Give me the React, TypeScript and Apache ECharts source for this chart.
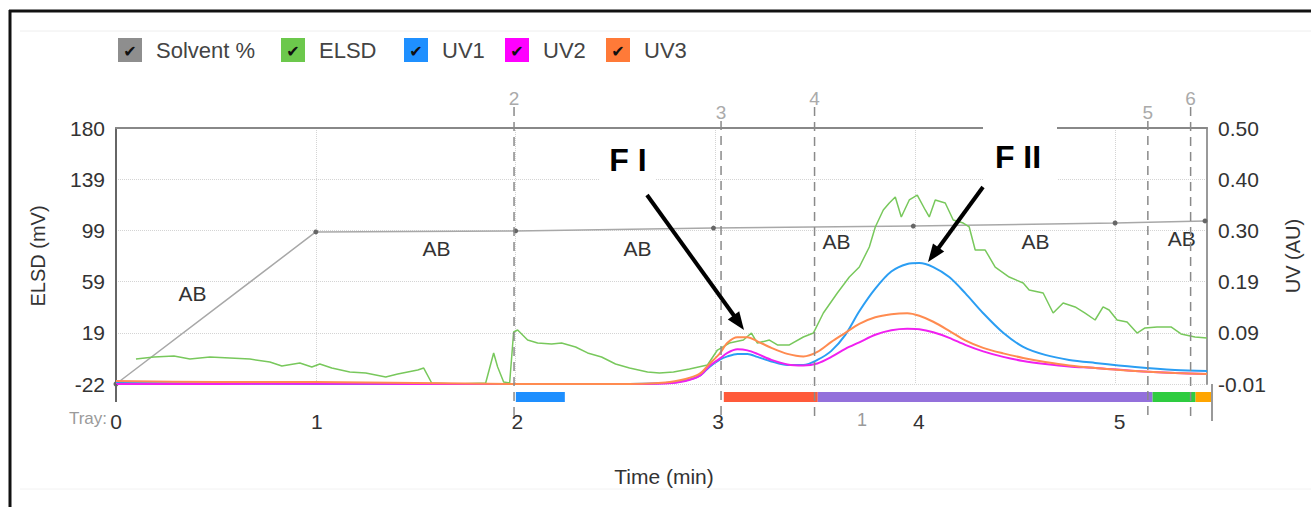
import React, { useEffect, useRef } from "react";
import * as echarts from "echarts";

const FONT = '"Liberation Sans", Arial, sans-serif';

// ---- data ----
const seriesNames = ["Solvent %", "ELSD", "UV1", "UV2", "UV3"];
const legendColors = ["#8e8e8e", "#6cc84c", "#1f90ff", "#ff00ff", "#ff7a38"];
const lineColors = ["#a8a8a8", "#78c85c", "#2b9ef3", "#f020f0", "#ff8b50"];

const elsdTicks = ["-22", "19", "59", "99", "139", "180"];
const timeTicks = [0, 1, 2, 3, 4, 5];

const solventTime = [0, 1.0, 2.0, 2.99, 3.99, 5.0, 5.45];
const solventPct = [0, 59.4, 59.8, 60.9, 61.7, 62.9, 63.7];

const segmentLabels = ["AB", "AB", "AB", "AB", "AB", "AB"];
const segmentLabelTime = [0.383, 1.604, 2.61, 3.606, 4.602, 5.334];
const segmentLabelPct = [35.5, 53.1, 53.1, 55.5, 55.5, 57.0];

const elsdTime = [0.1, 0.19, 0.29, 0.37, 0.47, 0.57, 0.67, 0.77, 0.83, 0.92, 0.98, 1.02, 1.08, 1.17, 1.25, 1.35, 1.41, 1.51, 1.54, 1.58, 1.71, 1.85, 1.89, 1.91, 1.94, 1.97, 1.99, 2.01, 2.06, 2.11, 2.18, 2.23, 2.3, 2.36, 2.43, 2.5, 2.57, 2.66, 2.72, 2.79, 2.87, 2.96, 3.01, 3.07, 3.14, 3.18, 3.21, 3.27, 3.31, 3.37, 3.44, 3.49, 3.54, 3.61, 3.67, 3.72, 3.77, 3.8, 3.84, 3.87, 3.9, 3.93, 3.97, 4.01, 4.05, 4.07, 4.1, 4.15, 4.19, 4.24, 4.27, 4.3, 4.35, 4.4, 4.47, 4.54, 4.57, 4.64, 4.69, 4.74, 4.8, 4.85, 4.9, 4.94, 4.97, 5.01, 5.06, 5.11, 5.15, 5.21, 5.28, 5.33, 5.4, 5.46];
const elsdValue = [-2.3, -0.7, 0.1, -2.3, -0.7, -1.5, -2.3, -4.6, -7.8, -5.4, -8.6, -6.2, -9.4, -12.5, -13.3, -16.5, -14.1, -11.0, -9.4, -21.2, -22, -21.2, 2.5, -8.6, -20.4, -21.2, 19.0, 20.6, 12.7, 10.3, 9.6, 10.3, 7.2, 2.5, -0.7, -6.2, -9.4, -12.5, -13.3, -12.5, -10.2, -7.0, 4.8, 10.3, 12.7, 18.2, 10.3, 12.7, 8.8, 8.8, 15.1, 18.2, 34.0, 49.8, 62.4, 70.3, 86.1, 101.9, 115.3, 120.8, 125.5, 109.8, 123.2, 127.1, 115.3, 109.8, 123.2, 120.8, 107.4, 105.0, 101.9, 83.7, 83.7, 70.3, 62.4, 57.7, 52.2, 49.8, 34.0, 41.9, 38.8, 34.0, 28.5, 38.8, 36.4, 28.5, 26.9, 18.2, 22.2, 23.0, 23.0, 17.5, 15.1, 14.3];

const uvTime = [0, 0.5, 1.0, 1.5, 2.0, 2.5, 2.75, 2.85, 2.92, 2.97, 3.02, 3.06, 3.11, 3.16, 3.21, 3.28, 3.36, 3.44, 3.51, 3.58, 3.65, 3.72, 3.8, 3.88, 3.96, 4.02, 4.09, 4.17, 4.25, 4.34, 4.44, 4.54, 4.65, 4.77, 4.9, 5.1, 5.3, 5.46];
const uv1Value = [-0.008, -0.009, -0.01, -0.01, -0.01, -0.01, -0.008, -0.003, 0.006, 0.024, 0.038, 0.045, 0.05, 0.05, 0.044, 0.035, 0.028, 0.028, 0.038, 0.056, 0.088, 0.135, 0.18, 0.214, 0.229, 0.231, 0.223, 0.203, 0.171, 0.131, 0.092, 0.064, 0.048, 0.038, 0.032, 0.024, 0.018, 0.016];
const uv2Value = [-0.01, -0.01, -0.009, -0.01, -0.01, -0.01, -0.009, -0.004, 0.006, 0.026, 0.04, 0.052, 0.059, 0.057, 0.05, 0.038, 0.029, 0.027, 0.031, 0.044, 0.06, 0.073, 0.088, 0.097, 0.1, 0.099, 0.093, 0.082, 0.068, 0.055, 0.044, 0.036, 0.03, 0.025, 0.022, 0.016, 0.012, 0.01];
const uv3Value = [-0.004, -0.006, -0.006, -0.008, -0.01, -0.01, -0.007, 0.0, 0.01, 0.03, 0.05, 0.072, 0.083, 0.083, 0.075, 0.062, 0.05, 0.045, 0.054, 0.074, 0.092, 0.11, 0.123, 0.129, 0.131, 0.126, 0.114, 0.096, 0.077, 0.062, 0.051, 0.042, 0.034, 0.027, 0.022, 0.016, 0.012, 0.01];

const fractionLabels = ["2", "3", "4", "5", "6"];
const fractionTime = [1.992, 3.028, 3.496, 5.164, 5.378];

const trayStart = [1.992, 3.028, 3.496, 5.164, 5.378];
const trayEnd = [2.236, 3.496, 5.164, 5.378, 5.46];
const trayColors = ["#1e8fff", "#ff5a3a", "#9370db", "#2ecc40", "#ffa500"];

const ELSD_MIN = -22, ELSD_MAX = 180, ELSD_STEP = 40.4;
const UV_MIN = -0.01, UV_MAX = 0.5, UV_STEP = 0.102;
const T_MAX = 5.46;

const zip = (a: number[], b: number[]) => a.map((v, i) => [v, b[i]]);

// legend layout
const legendLeft = [118, 281, 404, 505, 606];
const ICON = 24;
const LEGEND_TOP = 38;

function buildOption(): any {
  const graphics: any[] = [
    { type: "line", z: 100, shape: { x1: 9, y1: 11, x2: 1311, y2: 11 }, style: { stroke: "#111", lineWidth: 3 } },
    { type: "line", z: 100, shape: { x1: 10, y1: 10, x2: 10, y2: 507 }, style: { stroke: "#111", lineWidth: 3 } },
    { type: "line", z: 1, shape: { x1: 20, y1: 31, x2: 1311, y2: 31 }, style: { stroke: "#eeeeee", lineWidth: 1 } },
    { type: "line", z: 1, shape: { x1: 20, y1: 489, x2: 1311, y2: 489 }, style: { stroke: "#f2f2f2", lineWidth: 1 } },
    { type: "line", z: 5, shape: { x1: 116, y1: 384, x2: 116, y2: 402 }, style: { stroke: "#666", lineWidth: 2 } },
    { type: "line", z: 5, shape: { x1: 1212, y1: 384, x2: 1212, y2: 421 }, style: { stroke: "#999", lineWidth: 2 } },
    { type: "text", z: 5, x: 107, y: 418, style: { text: "Tray:", fill: "#9a9a9a", font: `17px ${FONT}`, align: "right", verticalAlign: "middle" } },
    { type: "text", z: 5, x: 862, y: 420, style: { text: "1", fill: "#9a9a9a", font: `18px ${FONT}`, align: "center", verticalAlign: "middle" } },
    // F I annotation
    { type: "rect", z: 90, shape: { x: 600, y: 140, width: 56, height: 46 }, style: { fill: "#fff" } },
    { type: "text", z: 101, x: 628, y: 160, style: { text: "F I", fill: "#000", font: `bold 32px ${FONT}`, align: "center", verticalAlign: "middle" } },
    { type: "line", z: 101, shape: { x1: 647, y1: 195, x2: 735, y2: 317 }, style: { stroke: "#000", lineWidth: 4 } },
    { type: "polygon", z: 101, shape: { points: [[744, 330], [727.8, 319.5], [739.2, 311.3]] }, style: { fill: "#000" } },
    // F II annotation
    { type: "rect", z: 90, shape: { x: 983, y: 124, width: 74, height: 62 }, style: { fill: "#fff" } },
    { type: "text", z: 101, x: 1018, y: 157, style: { text: "F II", fill: "#000", font: `bold 32px ${FONT}`, align: "center", verticalAlign: "middle" } },
    { type: "line", z: 101, shape: { x1: 983, y1: 187, x2: 937, y2: 250 }, style: { stroke: "#000", lineWidth: 4 } },
    { type: "polygon", z: 101, shape: { points: [[928, 262], [933, 243.4], [944.2, 251.6]] }, style: { fill: "#000" } },
  ];
  legendLeft.forEach((l) => {
    graphics.push({
      type: "text", z: 120, x: l + ICON / 2, y: LEGEND_TOP + ICON / 2 + 1,
      style: { text: "✔", fill: "#111", font: '16px "DejaVu Sans"', align: "center", verticalAlign: "middle" },
    });
  });

  const axisText = { fontSize: 21, color: "#333", fontFamily: FONT };

  return {
    animation: false,
    backgroundColor: "#fff",
    legend: seriesNames.map((name, i) => ({
      data: [{ name, itemStyle: { color: legendColors[i] } }],
      left: legendLeft[i],
      top: LEGEND_TOP,
      padding: 0,
      icon: "rect",
      itemWidth: ICON,
      itemHeight: ICON,
      selectedMode: false,
      textStyle: { fontSize: 22, color: "#444", fontFamily: FONT, padding: [0, 0, 0, 9] },
    })),
    grid: [
      { left: 116, top: 128, width: 1096, height: 256 },
      { left: 116, top: 392, width: 1096, height: 10 },
    ],
    xAxis: [
      {
        gridIndex: 0, type: "value", position: "top", min: 0, max: T_MAX, interval: 1,
        axisLine: { show: true, onZero: false, lineStyle: { color: "#888", width: 2 } },
        axisTick: { show: false }, axisLabel: { show: false },
        splitLine: { show: true, lineStyle: { color: "#d4d4d4", type: "dotted", width: 1 } },
      },
      {
        gridIndex: 1, type: "value", min: 0, max: T_MAX, interval: 1,
        axisLine: { show: false, onZero: false }, axisTick: { show: false }, splitLine: { show: false },
        axisLabel: {
          ...axisText, margin: 9, showMaxLabel: false,
          formatter: (v: number) => (timeTicks.indexOf(v) >= 0 ? String(v) : ""),
        },
        name: "Time (min)", nameLocation: "middle", nameGap: 64,
        nameTextStyle: { fontSize: 21, color: "#333", fontFamily: FONT },
      },
    ],
    yAxis: [
      {
        gridIndex: 0, type: "value", position: "left", min: ELSD_MIN, max: ELSD_MAX, interval: ELSD_STEP,
        axisLine: { show: true, onZero: false, lineStyle: { color: "#666", width: 2 } },
        axisTick: { show: false },
        axisLabel: {
          ...axisText, margin: 11,
          formatter: (v: number) => elsdTicks[Math.round((v - ELSD_MIN) / ELSD_STEP)] ?? "",
        },
        splitLine: { show: true, lineStyle: { color: "#d4d4d4", type: "dotted", width: 1 } },
        name: "ELSD (mV)", nameLocation: "middle", nameGap: 68,
        nameTextStyle: { fontSize: 20, color: "#333", fontFamily: FONT },
      },
      {
        gridIndex: 0, type: "value", position: "right", min: UV_MIN, max: UV_MAX, interval: UV_STEP,
        axisLine: { show: true, onZero: false, lineStyle: { color: "#999", width: 2 } },
        axisTick: { show: false },
        axisLabel: { ...axisText, margin: 11, formatter: (v: number) => v.toFixed(2) },
        splitLine: { show: false },
        name: "UV (AU)", nameLocation: "middle", nameGap: 76,
        nameTextStyle: { fontSize: 20, color: "#333", fontFamily: FONT },
      },
      { gridIndex: 0, type: "value", min: 0, max: 100, show: false },
      { gridIndex: 1, type: "value", min: 0, max: 1, show: false },
    ],
    graphic: graphics,
    series: [
      {
        name: "Solvent %", type: "line", xAxisIndex: 0, yAxisIndex: 2,
        data: zip(solventTime, solventPct), color: legendColors[0],
        lineStyle: { color: lineColors[0], width: 1.5 },
        symbol: "circle", symbolSize: 5, showSymbol: true,
        itemStyle: { color: "#666" }, z: 2,
      },
      {
        name: "ELSD", type: "line", xAxisIndex: 0, yAxisIndex: 0,
        data: zip(elsdTime, elsdValue), color: legendColors[1],
        lineStyle: { color: lineColors[1], width: 1.5 }, symbol: "none", z: 3,
      },
      {
        name: "UV1", type: "line", xAxisIndex: 0, yAxisIndex: 1,
        data: zip(uvTime, uv1Value), color: legendColors[2], smooth: 0.3,
        lineStyle: { color: lineColors[2], width: 2 }, symbol: "none", z: 4,
      },
      {
        name: "UV2", type: "line", xAxisIndex: 0, yAxisIndex: 1,
        data: zip(uvTime, uv2Value), color: legendColors[3], smooth: 0.3,
        lineStyle: { color: lineColors[3], width: 2 }, symbol: "none", z: 4,
      },
      {
        name: "UV3", type: "line", xAxisIndex: 0, yAxisIndex: 1,
        data: zip(uvTime, uv3Value), color: legendColors[4], smooth: 0.3,
        lineStyle: { color: lineColors[4], width: 2 }, symbol: "none", z: 4,
      },
      {
        name: "segments", type: "custom", xAxisIndex: 0, yAxisIndex: 2, clip: false, silent: true, z: 5,
        data: segmentLabelTime.map((t, i) => [t, segmentLabelPct[i]]),
        encode: { x: 0, y: 1 },
        renderItem: (params: any, api: any) => {
          const p = api.coord([api.value(0), api.value(1)]);
          return {
            type: "text", x: p[0], y: p[1],
            style: { text: segmentLabels[params.dataIndex], fill: "#333", font: `21px ${FONT}`, align: "center", verticalAlign: "middle" },
          };
        },
      },
      {
        name: "fractions", type: "custom", xAxisIndex: 0, yAxisIndex: 0, clip: false, silent: true, z: 6,
        data: fractionTime.map((t) => [t, ELSD_MIN]),
        encode: { x: 0, y: 1 },
        renderItem: (params: any, api: any) => {
          const t = api.value(0);
          const top = api.coord([t, ELSD_MAX]);
          const bot = api.coord([t, ELSD_MIN]);
          const high = params.dataIndex % 2 === 0;
          const ly = top[1] - (high ? 30 : 16);
          return {
            type: "group",
            children: [
              { type: "line", shape: { x1: top[0], y1: ly + 9, x2: top[0], y2: bot[1] + 36 }, style: { stroke: "#8a8a8a", lineWidth: 1.5, lineDash: [9, 6] } },
              { type: "text", x: top[0], y: ly, style: { text: fractionLabels[params.dataIndex], fill: "#aaa", font: `19px ${FONT}`, align: "center", verticalAlign: "middle" } },
            ],
          };
        },
      },
      {
        name: "tray", type: "custom", xAxisIndex: 1, yAxisIndex: 3, clip: false, silent: true,
        data: trayStart.map((s, i) => [s, trayEnd[i]]),
        encode: { x: [0, 1] },
        renderItem: (params: any, api: any) => {
          const p0 = api.coord([api.value(0), 1]);
          const p1 = api.coord([api.value(1), 0]);
          return {
            type: "rect",
            shape: { x: p0[0], y: p0[1], width: p1[0] - p0[0], height: p1[1] - p0[1] },
            style: { fill: trayColors[params.dataIndex] },
          };
        },
      },
    ],
  };
}

export default function App() {
  const ref = useRef<HTMLDivElement>(null);
  useEffect(() => {
    document.body.style.margin = "0";
    const chart = echarts.init(ref.current!, null, { renderer: "svg" });
    chart.setOption(buildOption());
    return () => chart.dispose();
  }, []);
  return <div ref={ref} style={{ width: 1311, height: 507 }} />;
}
